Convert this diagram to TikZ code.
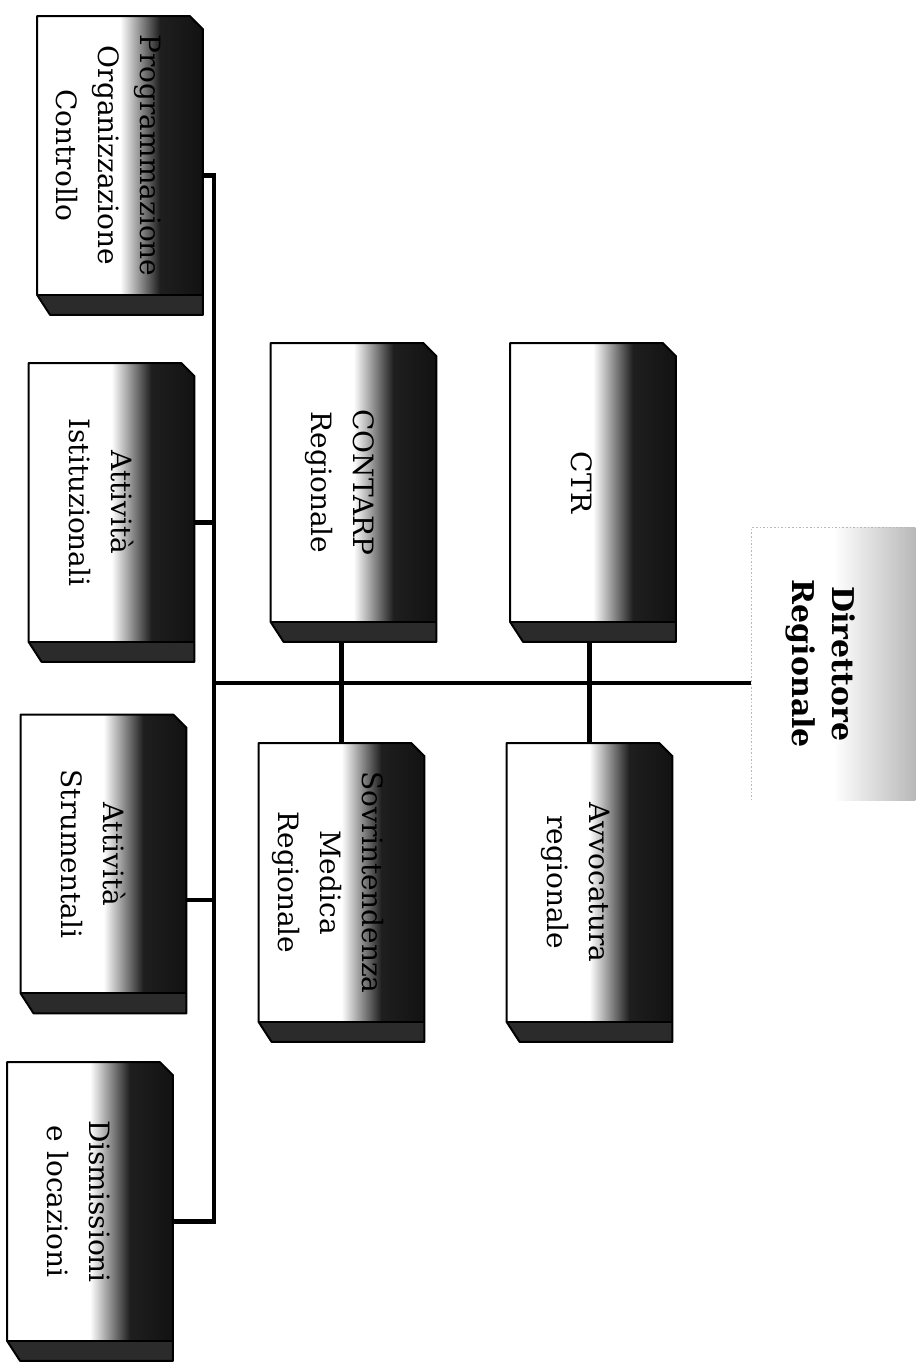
\documentclass[tikz,border=0pt]{standalone}
\usepackage{fontspec}
\setmainfont{DejaVu Serif}
\usetikzlibrary{backgrounds}
\definecolor{shadow}{HTML}{2B2B2B}
\definecolor{haze}{HTML}{B8B8B8}
\pgfdeclarehorizontalshading{boxshade}{100bp}{color(0bp)=(white); color(25bp)=(white); color(50bp)=(white); color(62bp)=(black!88); color(75bp)=(black!93); color(100bp)=(black!93)}
\pgfdeclarehorizontalshading{headshade}{100bp}{color(0bp)=(white); color(25bp)=(white); color(50bp)=(white); color(75bp)=(haze); color(100bp)=(haze)}
\newcommand{\vtext}[1]{\rotatebox{-90}{\begin{tabular}{@{}c@{}}#1\end{tabular}}\hspace*{13pt}}
\tikzset{
  unit/.style={minimum width=82.5pt, minimum height=139pt, inner sep=0pt, font=\fontsize{14}{21}\selectfont},
  head/.style={unit, minimum width=81.5pt, minimum height=136pt, font=\bfseries\fontsize{15}{20}\selectfont},
  link/.style={line width=2.2pt},
  side/.style={fill=shadow},
  rim/.style={line width=1pt, line join=round}
}

\begin{document}
\begin{tikzpicture}[x=0.5pt,y=-0.5pt]
\useasboundingbox (0,0) rectangle (922,1371);
% direttore
\node[head] (dir) at (833.5,664) {\vtext{Direttore\\Regionale}};
% staff
\node[unit] (ctr) at (593,482.5) {\vtext{CTR}};
\node[unit] (avv) at (589.5,882.5) {\vtext{Avvocatura\\regionale}};
\node[unit] (contarp) at (353.5,482.5) {\vtext{CONTARP\\Regionale}};
\node[unit] (medica) at (341.5,882.5) {\vtext{Sovrintendenza\\Medica\\Regionale}};
% uffici
\node[unit] (prog) at (120,155.5) {\vtext{Programmazione\\Organizzazione\\Controllo}};
\node[unit] (ist) at (111.5,502.5) {\vtext{Attività\\Istituzionali}};
\node[unit] (strum) at (103.5,854) {\vtext{Attività\\Strumentali}};
\node[unit] (dism) at (90,1201.5) {\vtext{Dismissioni\\e locazioni}};
\coordinate (trunk) at (214,683);

\begin{scope}[on background layer]
\draw[link] (dir.west |- trunk) -- (trunk);
\draw[link] ([yshift=-10pt]prog.east) -- ([yshift=-10pt]prog.east -| trunk) -- ([yshift=-10pt]dism.east -| trunk) -- ([yshift=-10pt]dism.east);
\draw[link] ([yshift=-10pt]ist.east) -- ([yshift=-10pt]ist.east -| trunk);
\draw[link] ([yshift=-23pt]strum.east) -- ([yshift=-23pt]strum.east -| trunk);
\draw[link] (medica.north) -- (medica.north |- contarp.south);
\draw[link] (avv.north) -- (avv.north |- ctr.south);

\shade[shading=headshade] (dir.north west) rectangle (dir.south east);
\draw[haze, densely dotted, line width=0.8pt] (dir.south west) -- (dir.north west) -- (dir.north east);

\foreach \n in {ctr,avv,contarp,medica,prog,ist,strum,dism} {
  \shade[shading=boxshade] (\n.north west) -- ([xshift=-6.5pt]\n.north east) -- ([yshift=-6.5pt]\n.north east)
    -- ([yshift=-10pt]\n.south east) -- ([shift={(6.5pt,-10pt)}]\n.south west) -- (\n.south west) -- cycle;
  \fill[side] (\n.south west) -- (\n.south east) -- ([yshift=-10pt]\n.south east) -- ([shift={(6.5pt,-10pt)}]\n.south west) -- cycle;
  \draw[rim] (\n.north west) -- ([xshift=-6.5pt]\n.north east) -- ([yshift=-6.5pt]\n.north east)
    -- ([yshift=-10pt]\n.south east) -- ([shift={(6.5pt,-10pt)}]\n.south west) -- (\n.south west) -- cycle;
  \draw[rim] (\n.south west) -- (\n.south east);
}
\end{scope}
\end{tikzpicture}
\end{document}
